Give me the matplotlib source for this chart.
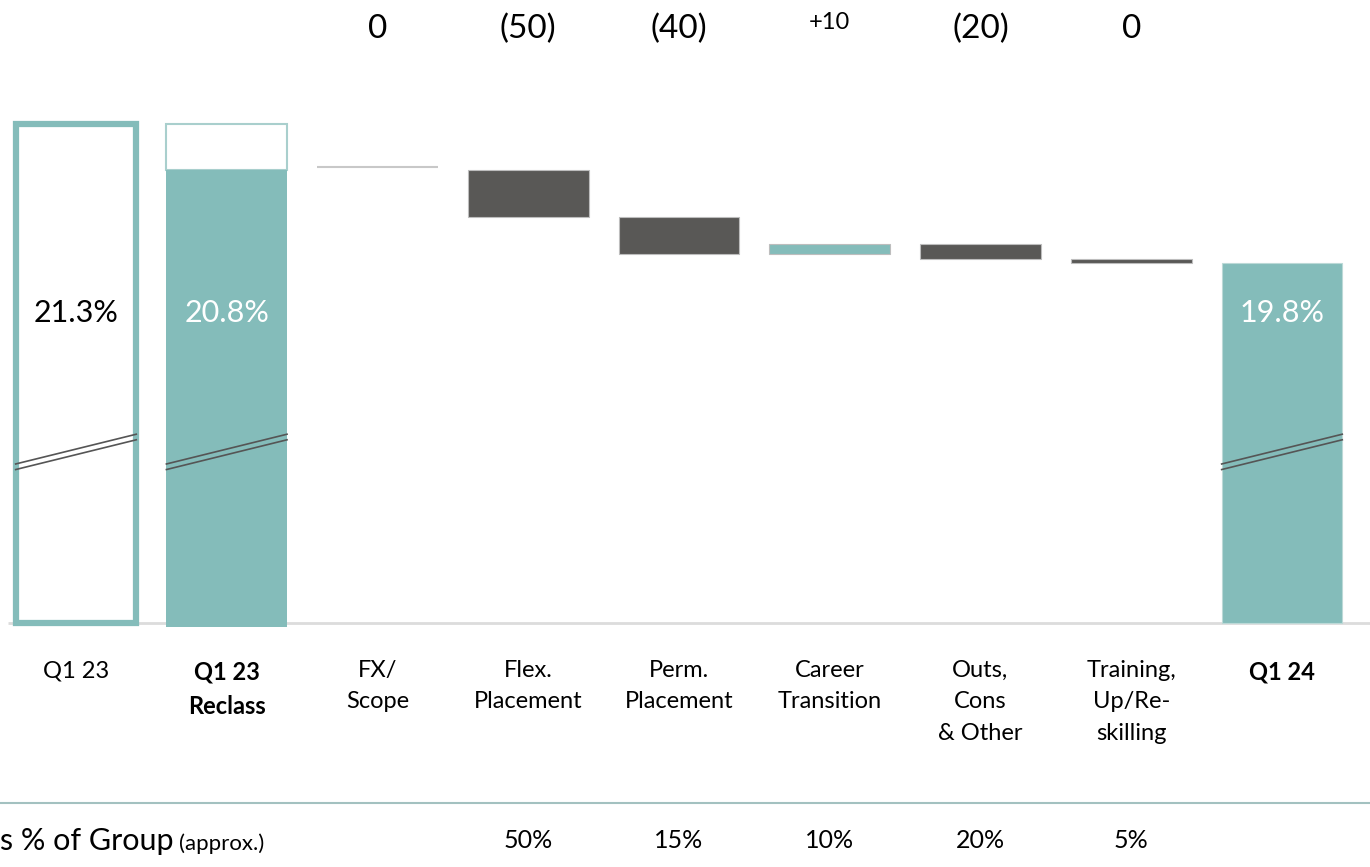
import numpy as np
import matplotlib
matplotlib.use("Agg")
import matplotlib.pyplot as plt
from matplotlib.transforms import blended_transform_factory

plt.rcParams['font.family'] = ['Lato', 'DejaVu Sans']

# data
categories = ['Q1 23', 'Q1 23\nReclass', 'FX/\nScope', 'Flex.\nPlacement', 'Perm.\nPlacement',
              'Career\nTransition', 'Outs,\nCons\n& Other', 'Training,\nUp/Re-\nskilling', 'Q1 24']
bold_cats = ['Q1 23\nReclass', 'Q1 24']
q1_23 = 21.3
q1_23_reclass = 20.8
q1_24 = 19.8
deltas_bps = [0, -50, -40, 10, -16, -4]          # FX ... Training, as drawn
delta_labels = ['0', '(50)', '(40)', '+10', '(20)', '0']
share_labels = ['', '', '', '50%', '15%', '10%', '20%', '5%', '']
total_labels = ['21.3%', '20.8%', '19.8%']

TEAL = '#84bcba'
TEAL_LIGHT = '#a9cfcd'
DARK = '#595856'
base = 15.93      # axis-break baseline

fig = plt.figure(figsize=(13.7, 8.67), dpi=100)
ax = fig.add_axes([0, 0, 1, 1])
ax.set_xlim(-0.504, 8.584)
ax.set_ylim(base - 244 / 93, base + 623 / 93)
ax.axis('off')

x = np.arange(len(categories))
w = 0.8

# baseline
ax.hlines(base, -0.45, 8.6, color='#dcdcdc', lw=2, zorder=1)

# totals
ax.bar(x[0], q1_23 - base, bottom=base, width=0.79, facecolor='white', edgecolor=TEAL, lw=4.5, zorder=2)
ax.bar(x[1], q1_23 - q1_23_reclass, bottom=q1_23_reclass, width=w, facecolor='white',
       edgecolor=TEAL_LIGHT, lw=1.5, zorder=2)
ax.bar(x[1], q1_23_reclass - base + 0.04, bottom=base - 0.04, width=w, color=TEAL, zorder=3)
ax.bar(x[8], q1_24 - base, bottom=base, width=w, color=TEAL, edgecolor='#bcd9d7', lw=0.8, zorder=3)

# bridge steps
level = q1_23_reclass
for i, d in enumerate(deltas_bps):
    xi = x[2 + i]
    new = level + d / 100
    if d == 0:
        ax.hlines(level + 0.03, xi - w / 2, xi + w / 2, color='#c8c8c8', lw=1.5, zorder=2)
    else:
        col = TEAL if d > 0 else DARK
        ax.bar(xi, new - level, bottom=level, width=w, color=col, edgecolor='#bdbdbd', lw=0.8, zorder=2)
    level = new

# axis-break marks
for xi in [x[0], x[1], x[8]]:
    for off in [0, -0.06]:
        ax.plot([xi - 0.4, xi + 0.4], [17.64 + off, 17.96 + off], color='#555555', lw=1.2, zorder=4)

# total labels
label_y = 19.26
ax.text(x[0], label_y, total_labels[0], ha='center', va='center', fontsize=22, color='black', zorder=5)
ax.text(x[1], label_y, total_labels[1], ha='center', va='center', fontsize=22, color='white', zorder=5)
ax.text(x[8], label_y, total_labels[2], ha='center', va='center', fontsize=22, color='white', zorder=5)

tr = blended_transform_factory(ax.transData, fig.transFigure)

# delta labels on top
for i, lab in enumerate(delta_labels):
    if lab.startswith('+'):
        fig.text(x[2 + i], 0.974, lab, transform=tr, ha='center', va='center', fontsize=17)
    else:
        fig.text(x[2 + i], 0.967, lab, transform=tr, ha='center', va='center', fontsize=24)

# category labels
for xi, cat in zip(x, categories):
    fw = 'bold' if cat in bold_cats else 'normal'
    fig.text(xi, 0.2385, cat, transform=tr, ha='center', va='top', fontsize=17,
             fontweight=fw, linespacing=1.6)

# bottom separator and share row
fig.add_artist(plt.Line2D([0, 1], [0.0738, 0.0738], transform=fig.transFigure, color='#a3c1c0', lw=1.5))
t1 = fig.text(0.0, 0.03, 's % of Group', ha='left', va='center', fontsize=22)
fig.canvas.draw()
bb = t1.get_window_extent()
fig.text(bb.x1 / fig.bbox.width + 0.004, 0.027, '(approx.)', ha='left', va='center', fontsize=16)
for xi, s in zip(x, share_labels):
    if s:
        fig.text(xi, 0.03, s, transform=tr, ha='center', va='center', fontsize=18)

fig.savefig('out.png', dpi=100)
